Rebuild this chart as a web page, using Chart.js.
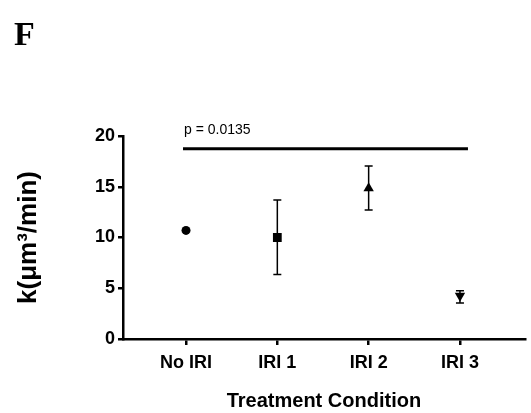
<!DOCTYPE html>
<html>
<head>
<meta charset="utf-8">
<script src="https://cdn.jsdelivr.net/npm/chart.js@4.4.1/dist/chart.umd.min.js"></script>
<style>
  html, body { margin: 0; padding: 0; background: #fff; }
  #wrap { width: 531px; height: 413px; }
</style>
</head>
<body>
<div id="wrap"><canvas id="c" width="531" height="413"></canvas></div>
<script>
// ---- data ----
const categories = ['No IRI', 'IRI 1', 'IRI 2', 'IRI 3'];
const means      = [10.7, 10.0, 14.85, 4.25];
const errLow     = [null, 6.35, 12.7, 3.55];
const errHigh    = [null, 13.7, 17.05, 4.75];
const yTicks     = [0, 5, 10, 15, 20];
const pointStyles = ['circle', 'rect', 'triangle', 'triangle'];
const pointRotations = [0, 0, 0, 180];
const sigFrom = 0, sigTo = 3, sigY = 18.75;
const pValueText = 'p = 0.0135';
const panelLabel = 'F';
const xTitle = 'Treatment Condition';
const yTitle = 'k(\u03bcm\u00b3/min)';

const SANS = '"Liberation Sans", Arial, Helvetica, sans-serif';

const extrasPlugin = {
  id: 'extras',
  beforeDatasetsDraw(chart) {
    const { ctx, scales: { x, y } } = chart;
    ctx.save();
    ctx.strokeStyle = '#000';
    ctx.lineWidth = 1.5;
    for (let i = 0; i < categories.length; i++) {
      if (errLow[i] == null) continue;
      const px = x.getPixelForValue(i);
      const yt = y.getPixelForValue(errHigh[i]);
      const yb = y.getPixelForValue(errLow[i]);
      ctx.beginPath();
      ctx.moveTo(px, yt); ctx.lineTo(px, yb);
      ctx.moveTo(px - 4, yt); ctx.lineTo(px + 4, yt);
      ctx.moveTo(px - 4, yb); ctx.lineTo(px + 4, yb);
      ctx.stroke();
    }
    ctx.restore();
  },
  afterDraw(chart) {
    const { ctx, scales: { x, y } } = chart;
    ctx.save();
    // significance bar
    const x1 = x.getPixelForValue(sigFrom) - 3;
    const x2 = x.getPixelForValue(sigTo) + 8;
    const sy = y.getPixelForValue(sigY);
    ctx.strokeStyle = '#000';
    ctx.lineWidth = 3;
    ctx.beginPath();
    ctx.moveTo(x1, sy); ctx.lineTo(x2, sy);
    ctx.stroke();
    ctx.fillStyle = '#000';
    ctx.font = '14px ' + SANS;
    ctx.textAlign = 'left';
    ctx.textBaseline = 'alphabetic';
    ctx.fillText(pValueText, x1 + 1, sy - 15);
    // panel label
    ctx.font = 'bold 34px "Liberation Serif", "Times New Roman", serif';
    ctx.fillText(panelLabel, 14, 45);
    ctx.restore();
  }
};

new Chart(document.getElementById('c'), {
  type: 'scatter',
  data: {
    datasets: [{
      data: means.map((v, i) => ({ x: i, y: v })),
      pointStyle: pointStyles,
      rotation: pointRotations,
      pointRadius: [4.5, 6.2, 6, 6],
      backgroundColor: '#000',
      borderColor: '#000',
      borderWidth: 0
    }]
  },
  options: {
    responsive: false,
    animation: false,
    devicePixelRatio: 1,
    layout: { padding: { top: 136, right: 6, left: 0, bottom: 0 } },
    plugins: { legend: { display: false }, tooltip: { enabled: false } },
    scales: {
      x: {
        type: 'linear',
        min: -0.69,
        max: 3.71,
        afterBuildTicks: (s) => { s.ticks = categories.map((c, i) => ({ value: i })); },
        afterFit: (s) => { s.height = 74; },
        ticks: {
          callback: (v) => categories[v],
          color: '#000',
          font: { family: SANS, size: 18, weight: 'bold' },
          padding: 7,
          maxRotation: 0
        },
        grid: { drawOnChartArea: false, drawTicks: true, tickLength: 6, lineWidth: 2.5, color: '#000' },
        border: { display: true, color: '#000', width: 2.5 },
        title: {
          display: true, text: xTitle, color: '#000',
          font: { family: SANS, size: 20, weight: 'bold' },
          padding: { top: 0, bottom: 0 }
        }
      },
      y: {
        min: 0,
        max: 20,
        afterBuildTicks: (s) => { s.ticks = yTicks.map(v => ({ value: v })); },
        afterFit: (s) => { s.width = 123; },
        ticks: {
          color: '#000',
          font: { family: SANS, size: 18, weight: 'bold' },
          padding: 3
        },
        grid: { drawOnChartArea: false, drawTicks: true, tickLength: 5, lineWidth: 2.5, color: '#000' },
        border: { display: true, color: '#000', width: 2.5 },
        title: {
          display: true, text: yTitle, color: '#000',
          font: { family: SANS, size: 26, weight: 'bold' },
          padding: { top: 13, bottom: 0 }
        }
      }
    }
  },
  plugins: [extrasPlugin]
});
</script>
</body>
</html>
